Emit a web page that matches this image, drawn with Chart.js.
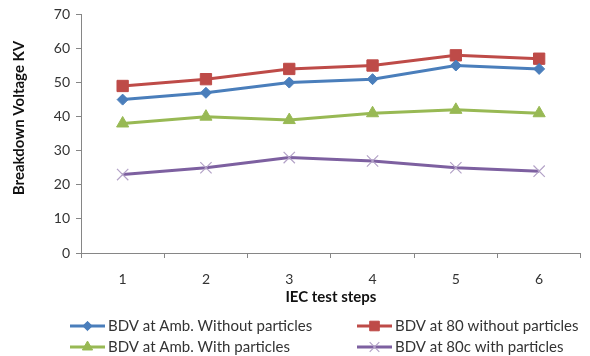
<!DOCTYPE html>
<html>
<head>
<meta charset="utf-8">
<script src="https://cdn.jsdelivr.net/npm/chart.js@4/dist/chart.umd.min.js"></script>
<style>
  html, body { margin: 0; padding: 0; background: #fff; }
  #wrap { width: 590px; height: 356px; position: relative; }
</style>
</head>
<body>
<div id="wrap"><canvas id="c" width="590" height="356"></canvas></div>
<script>
// IEC test steps on the x axis
const steps = ['1', '2', '3', '4', '5', '6'];

// Breakdown voltage (kV) for each test condition
const ambWithout = [45, 47, 50, 51, 55, 54];
const hotWithout = [49, 51, 54, 55, 58, 57];
const ambWith = [38, 40, 39, 41, 42, 41];
const hotWith = [23, 25, 28, 27, 25, 24];

const seriesNames = [
  'BDV at Amb. Without particles',
  'BDV at 80 without particles',
  'BDV at Amb. With particles',
  'BDV at 80c with particles'
];

const yTitle = 'Breakdown Voltage KV';
const xTitle = 'IEC test steps';

const FONT = 'Lato, "Open Sans", sans-serif';
const AXIS = '#868686';
const TEXT = '#333333';

// Legend in two columns below the plot, plus the rotated y-axis title
const customDecor = {
  id: 'customDecor',
  afterDraw(chart) {
    const ctx = chart.ctx;
    ctx.save();
    // y-axis title
    ctx.translate(19, 118);
    ctx.rotate(-Math.PI / 2);
    ctx.font = 'bold 15px ' + FONT;
    ctx.fillStyle = '#111';
    ctx.textAlign = 'center';
    ctx.textBaseline = 'middle';
    ctx.fillText(yTitle, 0, 0);
    ctx.restore();

    const slots = [
      { x: 70, y: 326 }, { x: 357, y: 326 },
      { x: 70, y: 347 }, { x: 357, y: 347 }
    ];
    chart.data.datasets.forEach((ds, i) => {
      const s = slots[i];
      ctx.save();
      ctx.strokeStyle = ds.borderColor;
      ctx.lineWidth = 3;
      ctx.beginPath();
      ctx.moveTo(s.x, s.y);
      ctx.lineTo(s.x + 35, s.y);
      ctx.stroke();
      ctx.fillStyle = ds.pointBackgroundColor;
      ctx.strokeStyle = ds.pointBorderColor;
      ctx.lineWidth = ds.pointBorderWidth;
      Chart.helpers.drawPoint(ctx, {
        pointStyle: ds.pointStyle,
        rotation: 0,
        radius: ds.pointRadius * 0.85,
        borderWidth: ds.pointBorderWidth
      }, s.x + 17.5, s.y);
      ctx.font = '15px ' + FONT;
      ctx.fillStyle = TEXT;
      ctx.textAlign = 'left';
      ctx.textBaseline = 'middle';
      ctx.fillText(ds.label, s.x + 38, s.y);
      ctx.restore();
    });
  }
};

function series(label, data, color, style, radius, markerFill, markerBorder, markerWidth) {
  return {
    label: label,
    data: data,
    borderColor: color,
    backgroundColor: color,
    borderWidth: 3,
    pointStyle: style,
    pointRadius: radius,
    pointHoverRadius: radius,
    pointBackgroundColor: markerFill,
    pointBorderColor: markerBorder,
    pointBorderWidth: markerWidth,
    tension: 0,
    fill: false
  };
}

new Chart(document.getElementById('c'), {
  type: 'line',
  data: {
    labels: steps,
    datasets: [
      series(seriesNames[0], ambWithout, '#4A7EBB', 'rectRot', 5.5, '#4A7EBB', '#4A7EBB', 1),
      series(seriesNames[1], hotWithout, '#BE4B48', 'rect', 8, '#BE4B48', '#BE4B48', 1),
      series(seriesNames[2], ambWith, '#98B954', 'triangle', 7, '#98B954', '#98B954', 1),
      series(seriesNames[3], hotWith, '#7D60A0', 'crossRot', 8, '#B3A2C7', '#B3A2C7', 1.2)
    ]
  },
  options: {
    responsive: false,
    animation: false,
    devicePixelRatio: 1,
    layout: { padding: { left: 0, top: 14, right: 8, bottom: 50 } },
    plugins: {
      legend: { display: false },
      tooltip: { enabled: false }
    },
    scales: {
      x: {
        type: 'category',
        offset: true,
        grid: { offset: true, drawOnChartArea: false, drawTicks: true, tickLength: 5, color: AXIS },
        border: { color: AXIS, width: 1 },
        ticks: { font: { family: FONT, size: 14 }, color: TEXT, padding: 13, maxRotation: 0 },
        title: { display: true, text: xTitle, font: { family: FONT, size: 15, weight: 'bold' }, color: '#111', padding: { top: 0, bottom: 0 } },
        afterFit(scale) { scale.height = 53; }
      },
      y: {
        min: 0,
        max: 70,
        ticks: { stepSize: 10, font: { family: FONT, size: 14 }, color: TEXT, padding: 6 },
        grid: { drawOnChartArea: false, drawTicks: true, tickLength: 5, color: AXIS },
        border: { color: AXIS, width: 1 },
        afterFit(scale) { scale.width = 81; }
      }
    }
  },
  plugins: [customDecor]
});
</script>
</body>
</html>
